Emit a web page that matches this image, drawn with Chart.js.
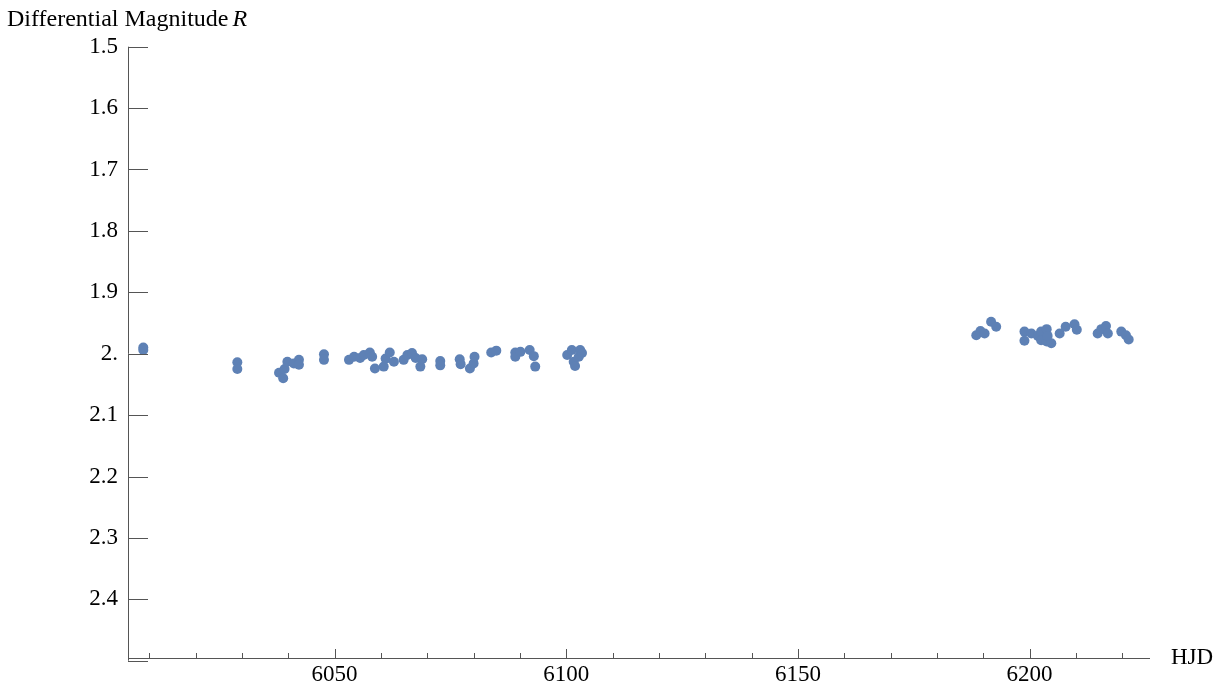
<!DOCTYPE html>
<html>
<head>
<meta charset="utf-8">
<script src="https://cdn.jsdelivr.net/npm/chart.js@4"></script>
<style>
  html, body { margin: 0; padding: 0; background: #fff; }
  #wrap { width: 1226px; height: 689px; position: relative; }
</style>
</head>
<body>
<div id="wrap"><canvas id="lc"></canvas></div>
<script>
// R-band light curve: heliocentric JD (minus 2450000) vs differential magnitude
const hjd = [
  6008.7, 6008.7, 6029.0, 6029.0, 6038.0, 6038.9, 6039.2, 6039.8, 6041.2, 6042.3,
  6042.3, 6047.7, 6047.7, 6053.1, 6054.2, 6055.5, 6056.3, 6057.6, 6058.1, 6058.7,
  6060.6, 6061.0, 6061.9, 6062.8, 6064.9, 6065.7, 6066.7, 6067.5, 6068.5, 6068.9,
  6072.8, 6072.8, 6077.0, 6077.2, 6079.2, 6080.0, 6080.2, 6083.8, 6084.9, 6089.0,
  6089.0, 6090.1, 6092.1, 6093.0, 6093.3, 6100.2, 6101.2, 6101.6, 6101.9, 6102.7,
  6103.0, 6103.4,
  6188.5, 6189.4, 6190.3, 6191.7, 6192.8, 6198.9, 6198.9, 6200.4, 6201.8, 6202.5,
  6203.7, 6202.5, 6203.7, 6204.7, 6203.9, 6206.5, 6207.8, 6209.7, 6210.2, 6214.7,
  6215.5, 6216.5, 6216.9, 6219.8, 6220.8, 6221.4
];
const magR = [
  1.990, 1.994, 2.014, 2.025, 2.031, 2.040, 2.025, 2.013, 2.016, 2.010,
  2.018, 2.001, 2.010, 2.010, 2.005, 2.007, 2.002, 1.998, 2.005, 2.024,
  2.021, 2.008, 1.998, 2.013, 2.010, 2.002, 1.999, 2.007, 2.021, 2.009,
  2.012, 2.019, 2.009, 2.017, 2.024, 2.016, 2.005, 1.998, 1.995, 1.998,
  2.005, 1.997, 1.994, 2.004, 2.021, 2.002, 1.994, 2.013, 2.020, 2.005,
  1.994, 1.999,
  1.970, 1.963, 1.967, 1.948, 1.956, 1.964, 1.979, 1.967, 1.971, 1.964,
  1.960, 1.978, 1.980, 1.983, 1.971, 1.967, 1.956, 1.952, 1.961, 1.967,
  1.960, 1.955, 1.967, 1.964, 1.970, 1.977
];

// axis ranges and ticks
const xRange = [6005.4, 6226];
const yRange = [1.5, 2.5];
const xAxisAt = 2.495;           // magnitude where the horizontal axis sits
const xMajorTicks = [6050, 6100, 6150, 6200];
const xMinorTicks = [6010, 6020, 6030, 6040, 6060, 6070, 6080, 6090, 6110, 6120,
                     6130, 6140, 6160, 6170, 6180, 6190, 6210, 6220];
const yTicks = [1.5, 1.6, 1.7, 1.8, 1.9, 2.0, 2.1, 2.2, 2.3, 2.4, 2.5];
const yTickLabels = ['1.5', '1.6', '1.7', '1.8', '1.9', '2.', '2.1', '2.2', '2.3', '2.4', ''];

const axisColor = '#555';
const dotColor = '#5e81b5';
const serif = '"Liberation Serif", "DejaVu Serif", serif';

const points = hjd.map((x, i) => ({x: x, y: magR[i]}));
const xAllTicks = xMajorTicks.concat(xMinorTicks).sort((a, b) => a - b);

// Mathematica-style axes: ticks point inward, axis labels at the ends
const axesPlugin = {
  id: 'frameAxes',
  afterDraw(chart) {
    const ctx = chart.ctx;
    const xs = chart.scales.x, ys = chart.scales.y;
    const x0 = xs.getPixelForValue(xRange[0]);
    const x1 = xs.getPixelForValue(xRange[1]);
    const yAx = ys.getPixelForValue(xAxisAt);
    ctx.save();
    ctx.strokeStyle = axisColor;
    ctx.lineWidth = 1;
    ctx.beginPath();
    // vertical axis
    ctx.moveTo(Math.round(x0) + 0.5, ys.getPixelForValue(yRange[0]));
    ctx.lineTo(Math.round(x0) + 0.5, ys.getPixelForValue(yRange[1]));
    // horizontal axis
    ctx.moveTo(x0, Math.round(yAx) + 0.5);
    ctx.lineTo(x1, Math.round(yAx) + 0.5);
    // y ticks
    yTicks.forEach(v => {
      const py = Math.round(ys.getPixelForValue(v)) + 0.5;
      ctx.moveTo(x0, py);
      ctx.lineTo(x0 + 20, py);
    });
    // x ticks
    xAllTicks.forEach(v => {
      const px = Math.round(xs.getPixelForValue(v)) + 0.5;
      const len = xMajorTicks.includes(v) ? 9 : 5;
      ctx.moveTo(px, Math.round(yAx));
      ctx.lineTo(px, Math.round(yAx) - len);
    });
    ctx.stroke();

    // axis labels
    ctx.fillStyle = '#000';
    ctx.textBaseline = 'alphabetic';
    ctx.textAlign = 'left';
    ctx.font = '24px ' + serif;
    const lead = 'Differential Magnitude ';
    ctx.fillText(lead, 7, 26);
    const w = ctx.measureText(lead).width;
    ctx.font = 'italic 24px ' + serif;
    ctx.fillText('R', 7 + w - 2, 26);
    ctx.font = '23px ' + serif;
    ctx.textBaseline = 'middle';
    ctx.fillText('HJD', 1171, yAx);
    ctx.restore();
  }
};

new Chart(document.getElementById('lc'), {
  type: 'scatter',
  data: {
    datasets: [{
      data: points,
      backgroundColor: dotColor,
      borderWidth: 0,
      pointRadius: 5,
      pointHoverRadius: 5
    }]
  },
  options: {
    responsive: true,
    maintainAspectRatio: false,
    animation: false,
    layout: { padding: { top: 46.7, right: 76, left: 0, bottom: 0 } },
    plugins: { legend: { display: false }, tooltip: { enabled: false } },
    scales: {
      x: {
        type: 'linear',
        min: xRange[0],
        max: xRange[1],
        afterBuildTicks: s => { s.ticks = xAllTicks.map(v => ({value: v})); },
        afterFit: s => { s.height = 28.3; },
        grid: { display: false, drawTicks: false },
        border: { display: false },
        ticks: {
          autoSkip: false,
          maxRotation: 0,
          padding: 0,
          color: '#000',
          font: { family: serif, size: 23 },
          callback: v => xMajorTicks.includes(v) ? String(v) : ''
        }
      },
      y: {
        type: 'linear',
        reverse: true,
        min: yRange[0],
        max: yRange[1],
        afterBuildTicks: s => { s.ticks = yTicks.map(v => ({value: v})); },
        afterFit: s => { s.width = 128; },
        grid: { display: false, drawTicks: false },
        border: { display: false },
        ticks: {
          autoSkip: false,
          padding: 10,
          color: '#000',
          font: { family: serif, size: 23 },
          callback: (v, i) => yTickLabels[i]
        }
      }
    }
  },
  plugins: [axesPlugin]
});
</script>
</body>
</html>
